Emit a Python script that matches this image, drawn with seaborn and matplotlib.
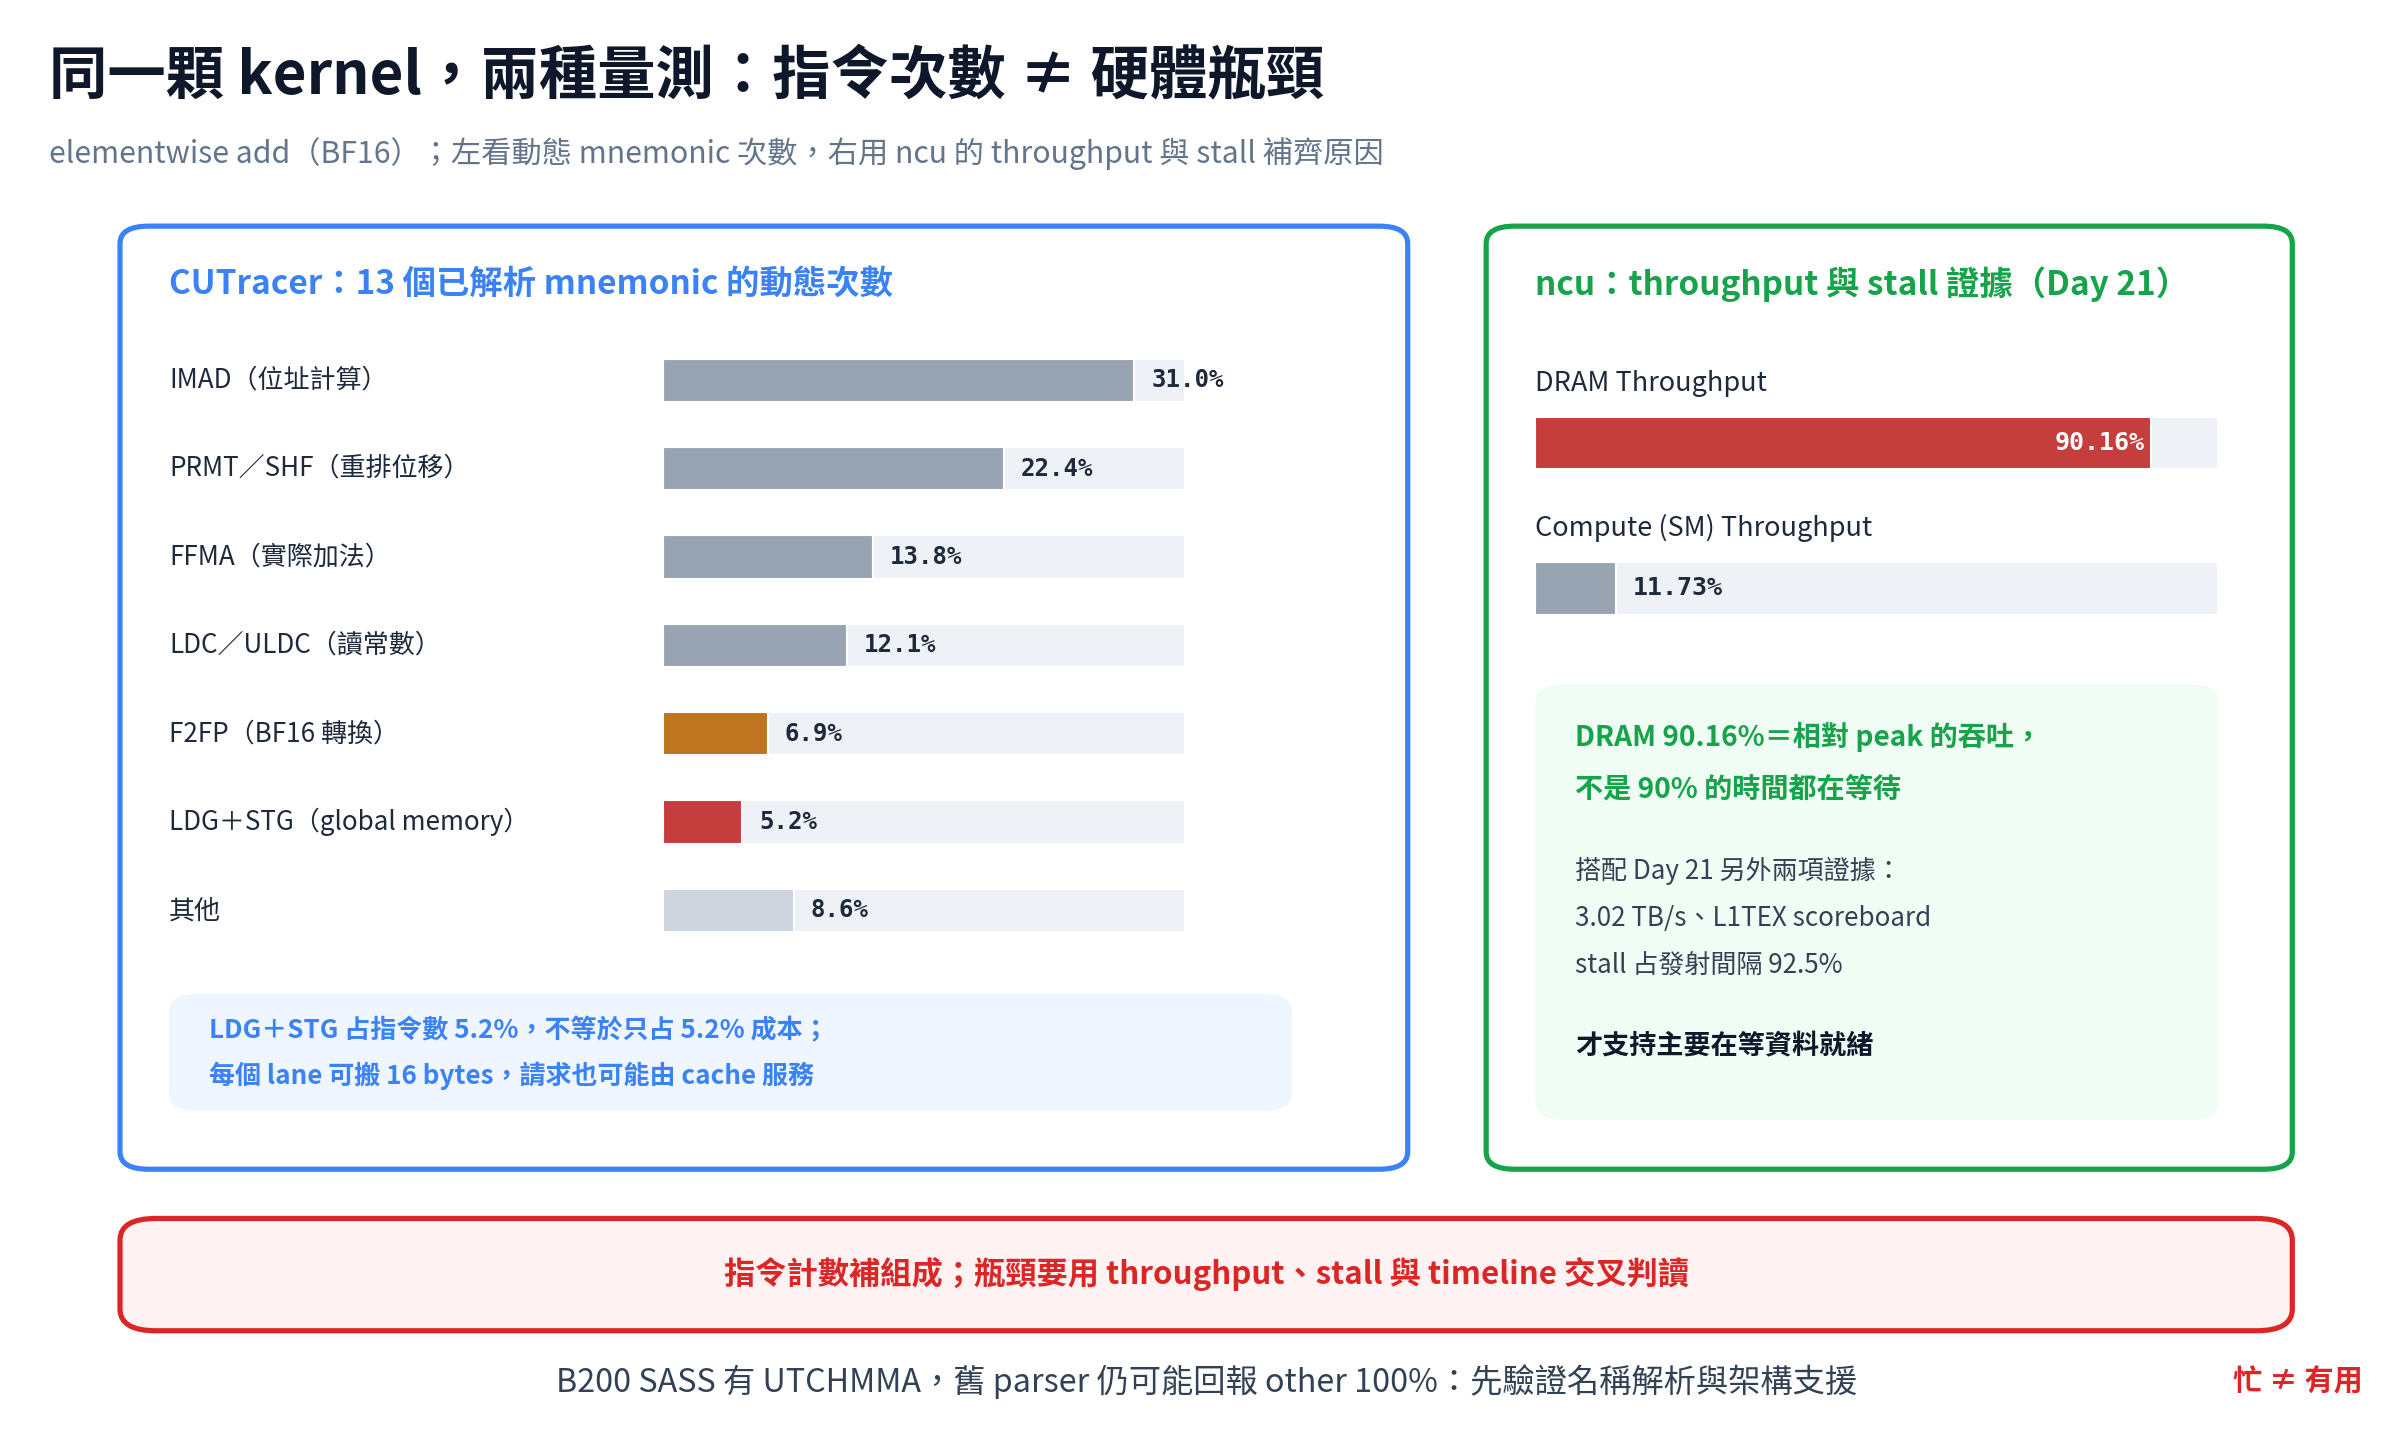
import matplotlib
matplotlib.use("Agg")
import matplotlib.pyplot as plt
import seaborn as sns
import pandas as pd
from matplotlib.patches import FancyBboxPatch

sns.set_theme(style="white")
FAM = ['Noto Sans CJK TC', 'DejaVu Sans']
plt.rcParams['font.family'] = FAM

categories = ["IMAD（位址計算）", "PRMT／SHF（重排位移）", "FFMA（實際加法）", "LDC／ULDC（讀常數）",
              "F2FP（BF16 轉換）", "LDG＋STG（global memory）", "其他"]
shares = [31.0, 22.4, 13.8, 12.1, 6.9, 5.2, 8.6]
bar_colors = ["#94a3b8", "#94a3b8", "#94a3b8", "#94a3b8", "#d97706", "#dc2626", "#cbd5e1"]
ncu_metrics = ["DRAM Throughput", "Compute (SM) Throughput"]
ncu_values = [90.16, 11.73]
ncu_colors = ["#dc2626", "#94a3b8"]

W, H = 1560, 936
fig = plt.figure(figsize=(16, 9.6), dpi=150)
fig.patch.set_facecolor("white")

def fx(x): return x / W
def fy(y): return 1 - y / H

def box(x0, y0, x1, y1, fc, ec, lw=2.5, r=0.012):
    p = FancyBboxPatch((fx(x0), fy(y1)), fx(x1 - x0), (y1 - y0) / H,
                       boxstyle=f"round,pad=0,rounding_size={r}", transform=fig.transFigure,
                       facecolor=fc, edgecolor=ec, linewidth=lw, zorder=-5)
    fig.patches.append(p)

def txt(x, y, s, size, color, weight="normal", ha="left", family=None):
    fig.text(fx(x), fy(y), s, fontsize=size, color=color, weight=weight, ha=ha, va="center",
             family=family or FAM)

def mkax(rect):
    a = fig.add_axes(rect)
    a.set_zorder(5)
    a.patch.set_alpha(0)
    return a

# titles
txt(32, 50, "同一顆 kernel，兩種量測：指令次數 ≠ 硬體瓶頸", 28, "#0f172a", "bold")
txt(32, 100, "elementwise add（BF16）；左看動態 mnemonic 次數，右用 ncu 的 throughput 與 stall 補齊原因", 14.5, "#64748b")

# panels
box(78, 147, 915, 760, "white", "#3b82f6")
box(966, 147, 1490, 760, "white", "#16a34a")
txt(110, 185, "CUTracer：13 個已解析 mnemonic 的動態次數", 16, "#3b82f6", "bold")
txt(998, 185, "ncu：throughput 與 stall 證據（Day 21）", 16, "#16a34a", "bold")

# left bars
df = pd.DataFrame({"cat": categories, "v": shares})
xmax = 34.3
ax = mkax([fx(431), fy(620.5), fx(770 - 431), (620.5 - 218.5) / H])
ax.barh(range(len(categories)), [xmax] * len(categories), height=0.49, color="#eef1f5", zorder=0)
sns.barplot(data=df, x="v", y="cat", hue="cat", palette=bar_colors, legend=False,
            width=0.49, ax=ax, orient="h", zorder=2)
ax.set_xlim(0, xmax)
ax.set_ylim(len(categories) - 0.5, -0.5)
ax.axis("off")
for i, (c, v) in enumerate(zip(categories, shares)):
    ax.text(v + 1.1, i, f"{v:.1f}%", va="center", ha="left", fontsize=11.5, weight="bold",
            family="DejaVu Sans Mono", color="#1e293b")
    txt(110, 247 + i * 57.5, c, 12.5, "#1e293b")

# left note
box(110, 646, 840, 722, "#eff6ff", "none", lw=0)
txt(136, 670, "LDG＋STG 占指令數 5.2%，不等於只占 5.2% 成本；", 12.5, "#3b82f6", "bold")
txt(136, 699, "每個 lane 可搬 16 bytes，請求也可能由 cache 服務", 12.5, "#3b82f6", "bold")

# right bars
for i, (m, v, c) in enumerate(zip(ncu_metrics, ncu_values, ncu_colors)):
    yc = 288 + i * 94.5
    txt(998, 249 + i * 94.5, m, 13, "#1e293b")
    a = mkax([fx(998), fy(yc + 17), fx(1442 - 998), 34 / H])
    a.barh([0], [100], height=1, color="#eef1f5", zorder=0)
    sns.barplot(x=[v], y=[m], color=c, width=1, ax=a, orient="h", zorder=2)
    a.set_xlim(0, 100); a.set_ylim(0.5, -0.5); a.axis("off")
    if v > 50:
        a.text(v - 1, 0, f"{v:.2f}%", va="center", ha="right", fontsize=12, weight="bold",
               family="DejaVu Sans Mono", color="white")
    else:
        a.text(v + 2.5, 0, f"{v:.2f}%", va="center", ha="left", fontsize=12, weight="bold",
               family="DejaVu Sans Mono", color="#1e293b")

box(998, 445, 1442, 728, "#f0fdf4", "none", lw=0)
txt(1024, 479, "DRAM 90.16%＝相對 peak 的吞吐，", 13.5, "#16a34a", "bold")
txt(1024, 513, "不是 90% 的時間都在等待", 13.5, "#16a34a", "bold")
txt(1024, 566, "搭配 Day 21 另外兩項證據：", 12.5, "#334155")
txt(1024, 597, "3.02 TB/s、L1TEX scoreboard", 12.5, "#334155")
txt(1024, 628, "stall 占發射間隔 92.5%", 12.5, "#334155")
txt(1024, 680, "才支持主要在等資料就緒", 13, "#0f172a", "bold")

# bottom
box(78, 792, 1490, 865, "#fef2f2", "#dc2626", r=0.015)
txt(784, 828, "指令計數補組成；瓶頸要用 throughput、stall 與 timeline 交叉判讀", 15, "#dc2626", "bold", ha="center")
txt(784, 898, "B200 SASS 有 UTCHMMA，舊 parser 仍可能回報 other 100%：先驗證名稱解析與架構支援", 15.5, "#334155", ha="center")
txt(1536, 898, "忙 ≠ 有用", 14, "#dc2626", "bold", ha="right")

fig.savefig("out.png", dpi=150, facecolor="white")
